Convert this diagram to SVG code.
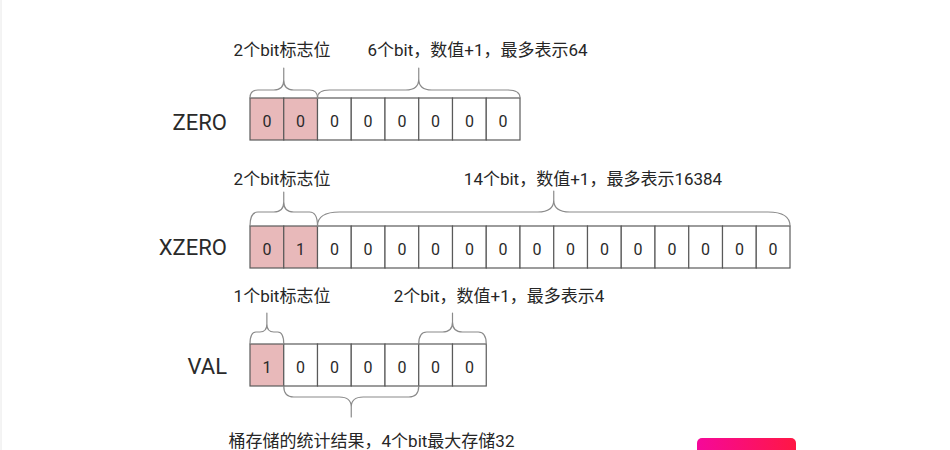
<svg xmlns="http://www.w3.org/2000/svg" width="950" height="450" viewBox="0 0 950 450">
  <defs>
    <style>
      .cell { fill: #ffffff; stroke: #5a5a5a; stroke-width: 1.2; }
      .flag { fill: #e8b9ba; stroke: #5a5a5a; stroke-width: 1.2; }
      .bit { font-family: Roboto, "Noto Sans CJK SC", sans-serif; font-size: 16px; fill: #2a2a2a; text-anchor: middle; }
      .rowlabel { font-family: Roboto, "Noto Sans CJK SC", sans-serif; font-size: 22px; fill: #2a2a2a; text-anchor: end; }
      .note { font-family: Roboto, "Noto Sans CJK SC", sans-serif; font-size: 17px; fill: #262626; text-anchor: middle; }
      .brace { fill: none; stroke: #8a8a8a; stroke-width: 1.2; stroke-linecap: round; }
    </style>
    <linearGradient id="badge" x1="0" y1="0" x2="1" y2="0">
      <stop offset="0" stop-color="#f5089a"/>
      <stop offset="1" stop-color="#ff1744"/>
    </linearGradient>
  </defs>
  <rect x="0" y="0" width="950" height="450" fill="#ffffff"/>
  <line x1="1" y1="0" x2="1" y2="450" stroke="#e8e8e8" stroke-width="1"/>

  <g id="zero">
    <text class="rowlabel" x="227" y="130">ZERO</text>
    <rect class="flag" x="250" y="98" width="33.75" height="42"/>
    <rect class="flag" x="283.75" y="98" width="33.75" height="42"/>
    <rect class="cell" x="317.5" y="98" width="33.75" height="42"/>
    <rect class="cell" x="351.25" y="98" width="33.75" height="42"/>
    <rect class="cell" x="385" y="98" width="33.75" height="42"/>
    <rect class="cell" x="418.75" y="98" width="33.75" height="42"/>
    <rect class="cell" x="452.5" y="98" width="33.75" height="42"/>
    <rect class="cell" x="486.25" y="98" width="33.75" height="42"/>
    <text class="bit" y="127"><tspan x="266.9">0</tspan><tspan x="300.6">0</tspan><tspan x="334.4">0</tspan><tspan x="368.1">0</tspan><tspan x="401.9">0</tspan><tspan x="435.6">0</tspan><tspan x="469.4">0</tspan><tspan x="503.1">0</tspan></text>
  </g>

  <g id="xzero">
    <text class="rowlabel" x="227" y="255">XZERO</text>
    <rect class="flag" x="250" y="226" width="33.75" height="42"/>
    <rect class="flag" x="283.75" y="226" width="33.75" height="42"/>
    <rect class="cell" x="317.5" y="226" width="33.75" height="42"/>
    <rect class="cell" x="351.25" y="226" width="33.75" height="42"/>
    <rect class="cell" x="385" y="226" width="33.75" height="42"/>
    <rect class="cell" x="418.75" y="226" width="33.75" height="42"/>
    <rect class="cell" x="452.5" y="226" width="33.75" height="42"/>
    <rect class="cell" x="486.25" y="226" width="33.75" height="42"/>
    <rect class="cell" x="520" y="226" width="33.75" height="42"/>
    <rect class="cell" x="553.75" y="226" width="33.75" height="42"/>
    <rect class="cell" x="587.5" y="226" width="33.75" height="42"/>
    <rect class="cell" x="621.25" y="226" width="33.75" height="42"/>
    <rect class="cell" x="655" y="226" width="33.75" height="42"/>
    <rect class="cell" x="688.75" y="226" width="33.75" height="42"/>
    <rect class="cell" x="722.5" y="226" width="33.75" height="42"/>
    <rect class="cell" x="756.25" y="226" width="33.75" height="42"/>
    <text class="bit" y="255"><tspan x="266.9">0</tspan><tspan x="300.6">1</tspan><tspan x="334.4">0</tspan><tspan x="368.1">0</tspan><tspan x="401.9">0</tspan><tspan x="435.6">0</tspan><tspan x="469.4">0</tspan><tspan x="503.1">0</tspan><tspan x="536.9">0</tspan><tspan x="570.6">0</tspan><tspan x="604.4">0</tspan><tspan x="638.1">0</tspan><tspan x="671.9">0</tspan><tspan x="705.6">0</tspan><tspan x="739.4">0</tspan><tspan x="773.1">0</tspan></text>
  </g>

  <g id="val">
    <text class="rowlabel" x="227" y="374">VAL</text>
    <rect class="flag" x="250" y="344" width="33.75" height="42"/>
    <rect class="cell" x="283.75" y="344" width="33.75" height="42"/>
    <rect class="cell" x="317.5" y="344" width="33.75" height="42"/>
    <rect class="cell" x="351.25" y="344" width="33.75" height="42"/>
    <rect class="cell" x="385" y="344" width="33.75" height="42"/>
    <rect class="cell" x="418.75" y="344" width="33.75" height="42"/>
    <rect class="cell" x="452.5" y="344" width="33.75" height="42"/>
    <text class="bit" y="373"><tspan x="266.9">1</tspan><tspan x="300.6">0</tspan><tspan x="334.4">0</tspan><tspan x="368.1">0</tspan><tspan x="401.9">0</tspan><tspan x="435.6">0</tspan><tspan x="469.4">0</tspan></text>
  </g>

  <g id="labels">
    <text class="note" x="282" y="56">2个bit标志位</text>
    <text class="note" x="477.5" y="56">6个bit，数值+1，最多表示64</text>
    <text class="note" x="282" y="184.5">2个bit标志位</text>
    <text class="note" x="593" y="184.5">14个bit，数值+1，最多表示16384</text>
    <text class="note" x="282" y="302">1个bit标志位</text>
    <text class="note" x="499" y="302">2个bit，数值+1，最多表示4</text>
    <text class="note" x="371.5" y="447">桶存储的统计结果，4个bit最大存储32</text>
  </g>

  <g id="connectors">
    <path class="brace" d="M250,98 Q250,90 258,90 H273.75 Q283.75,90 283.75,80 V68 M283.75,80 Q283.75,90 293.75,90 H309.5 Q317.5,90 317.5,98"/>
    <path class="brace" d="M317.5,98 Q317.5,90 329.5,90 H405.75 Q418.75,90 418.75,79 V68 M418.75,79 Q418.75,90 431.75,90 H508 Q520,90 520,98"/>
    <path class="brace" d="M250,226 Q250,212 258,212 H273.75 Q283.75,212 283.75,202 V192 M283.75,202 Q283.75,212 293.75,212 H309.5 Q317.5,212 317.5,226"/>
    <path class="brace" d="M317.5,226 Q317.5,212 339.5,212 H537.75 Q553.75,212 553.75,200 V191 M553.75,200 Q553.75,212 569.75,212 H768 Q790,212 790,226"/>
    <path class="brace" d="M250,344 Q250,332 256,332 H259.875 Q266.875,332 266.875,324 V313 M266.875,324 Q266.875,332 273.875,332 H277.75 Q283.75,332 283.75,344"/>
    <path class="brace" d="M418.75,344 Q418.75,332 426.75,332 H442.5 Q452.5,332 452.5,322 V313 M452.5,322 Q452.5,332 462.5,332 H478.25 Q486.25,332 486.25,344"/>
    <path class="brace" d="M283.75,386 Q283.75,397 293.75,397 H339.25 Q351.25,397 351.25,407 V417 M351.25,407 Q351.25,397 363.25,397 H408.75 Q418.75,397 418.75,386"/>
  </g>

  <rect x="697" y="438" width="99" height="26" rx="5" fill="url(#badge)"/>
</svg>
